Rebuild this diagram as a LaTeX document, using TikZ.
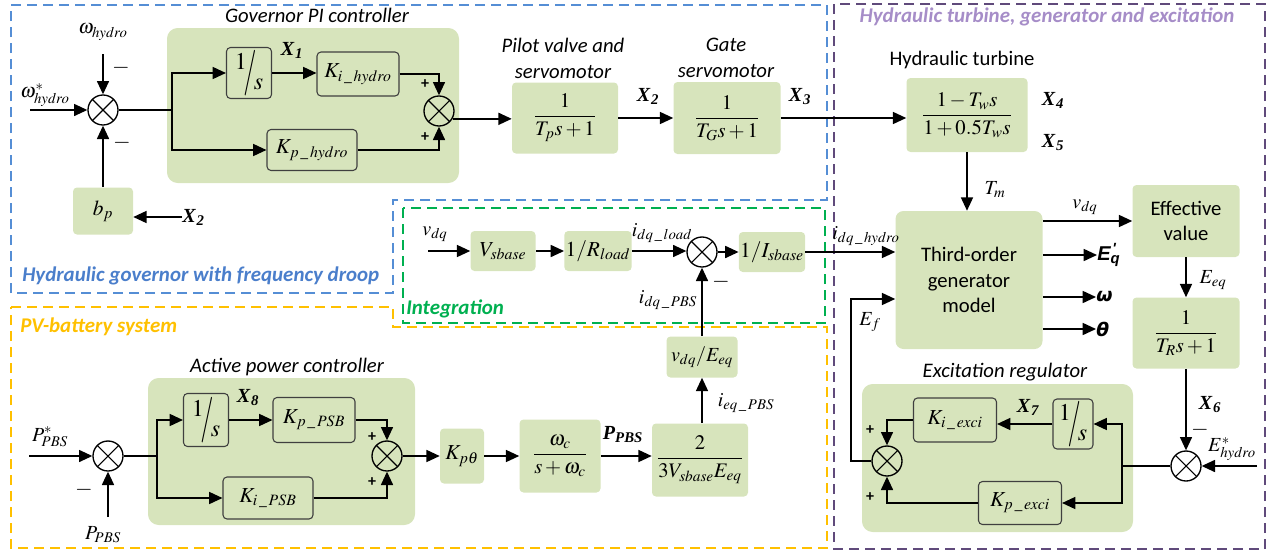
\documentclass[tikz,border=0pt]{standalone}
\usepackage{amsmath}
\usepackage{mathptmx}
\usepackage{graphicx}
\usepackage[no-math]{fontspec}
\setmainfont{Carlito}
\newfontfamily\tms{Liberation Serif}
\newfontfamily\dvs{DejaVu Sans}
\newfontfamily\lsans{Liberation Sans}
\usetikzlibrary{arrows.meta,calc}
\definecolor{gfill}{HTML}{D7E4BC}
\definecolor{bdr}{HTML}{3F3F3F}
\definecolor{bluedash}{HTML}{558ED5}
\definecolor{bluetxt}{HTML}{4A7ECB}
\definecolor{ylw}{HTML}{FFC000}
\definecolor{grn}{HTML}{00B050}
\definecolor{purpdash}{HTML}{604A7B}
\definecolor{purptxt}{HTML}{A68DC8}
\newcommand\ovs{{\raisebox{0.38em}{$1$}\kern-0.14em\raisebox{-0.25em}{\scalebox{1.1}[1.9]{$/$}}\kern-0.12em\raisebox{-0.45em}{$s$}}}
\newcommand\Xl[1]{{\tms\bfseries\itshape X\kern0.05em\textsubscript{#1}}}
\tikzset{
  ln/.style={line width=1.2pt},
  arr/.style={line width=1.2pt,-{Triangle[length=10pt,width=9pt]}},
  sz/.style 2 args={minimum width=#1*0.75pt,minimum height=#2*0.75pt},
  blk/.style={fill=gfill,rounded corners=3pt,inner sep=1pt,align=center},
  bblk/.style={blk,draw=bdr,line width=0.8pt},
  region/.style={fill=gfill,rounded corners=8pt,inner sep=0pt},
  sumj/.style={circle,draw,line width=1pt,minimum size=22.5pt,inner sep=0pt,
    path picture={\draw[line width=0.8pt] (path picture bounding box.south west) -- (path picture bounding box.north east)
      (path picture bounding box.north west) -- (path picture bounding box.south east);}},
  dsh/.style={dash pattern=on 7.5pt off 4.5pt,line width=1.9pt},
  lbl/.style={inner sep=0pt},
  mth/.style={lbl,font=\fontsize{15}{18}\selectfont},
  kf/.style={font=\fontsize{16}{19}\selectfont},
  ff/.style={font=\fontsize{15.5}{18}\selectfont},
  ttl/.style={lbl,align=center,font=\fontsize{15.5}{19.5}\selectfont\itshape},
  rtxt/.style={lbl,font=\fontsize{15.7}{19}\selectfont\bfseries\itshape},
  sgn/.style={lbl,font=\fontsize{17}{19}\selectfont},
  pls/.style={lbl,font=\fontsize{12}{14}\selectfont\bfseries},
  xl/.style={lbl,font=\fontsize{15}{18}\selectfont},
}
\begin{document}
\begin{tikzpicture}[x=0.75pt,y=-0.75pt]
\useasboundingbox (0,0) rectangle (1275,557);
% dashed regions
\draw[dsh,bluedash] (11,5) -- (827,5) -- (827,200) -- (393,200) -- (393,293) -- (11,293) -- cycle;
\draw[dsh,ylw] (11,307) -- (393,307) -- (393,327) -- (827,327) -- (827,548) -- (11,548) -- cycle;
\draw[dsh,grn] (403,208) rectangle (825,323);
\draw[dsh,purpdash] (834,4) rectangle (1265,549);
\node[rtxt,bluetxt,anchor=west] (tgov) at (22,276) {Hydraulic governor with frequency droop};
\node[rtxt,ylw,anchor=west] (tpv) at (20,327) {PV-battery system};
\node[rtxt,grn,anchor=west] (tint) at (406,309) {Integration};
\node[rtxt,purptxt] (ttur) at (1047,17) {Hydraulic turbine, generator and excitation};

% green regions
\node[region,sz={292}{155}] (gpi) at (313,105.5) {};
\node[region,sz={271}{148}] (exr) at (997.5,458) {};
\node[region,sz={267}{147}] (apc) at (281.5,451.5) {};

% ---------- governor ----------
\node[ttl] (tgpi) at (317,15) {Governor PI controller};
\node[sumj] (msum) at (103,110) {};
\coordinate (winp) at (30,110);
\coordinate (wtop) at (103,54);
\node[mth] (lws) at (45,95) {$\omega^{*}_{hydro}$};
\node[mth] (lw) at (103,32) {$\omega_{hydro}$};
\node[sgn] (m1) at (121,68) {$-$};
\node[sgn] (m2) at (122,143) {$-$};
\node[blk,sz={60}{47},kf] (bp) at (103,211) {$b_p$};
\node[xl,anchor=west] (x2b) at (182,217) {\Xl{2}};
\coordinate (gb) at (172,110);
\node[bblk,sz={45}{51},font=\fontsize{18}{20}\selectfont] (int1) at (249,73) {\ovs};
\node[bblk,sz={82}{44},kf] (Ki) at (358,74) {$K_{i\,\_\,hydro}$};
\node[bblk,sz={90}{41},kf] (Kp) at (312,150) {$K_{p\,\_\,hydro}$};
\node[sumj] (gsum) at (439,111) {};
\node[pls] (p1) at (425,84) {+};
\node[pls] (p2) at (425,137) {+};
\node[xl] (x1) at (292,50) {\Xl{1}};
\draw[arr] (winp) -- (msum.west);
\draw[arr] (wtop) -- (msum.north);
\draw[arr] (bp.north) -- (msum.south);
\draw[arr] (x2b.west) -- (x2b.west -| bp.east);
\draw[ln] (msum.east) -- (gb);
\draw[arr] (gb) |- (int1.west);
\draw[arr] (gb) |- (Kp.west);
\draw[arr] (int1.east) -- (int1.east -| Ki.west);
\draw[arr] (Ki.east) -| (gsum.north);
\draw[arr] (Kp.east) -| (gsum.south);

\node[ttl] (tpil) at (563,58) {Pilot valve and\\servomotor};
\node[blk,sz={106}{71},ff] (pilot) at (565,118) {$\dfrac{1}{T_p s+1}$};
\node[ttl] (tgat) at (726,58) {Gate\\servomotor};
\node[blk,sz={107}{72},ff] (gate) at (727,118) {$\dfrac{1}{T_G s+1}$};
\node[xl] (x2) at (648,96) {\Xl{2}};
\node[xl] (x3) at (800,97) {\Xl{3}};
\draw[arr] (gsum.-30) -- (gsum.-30 -| pilot.west);
\draw[arr] (pilot.east) -- (pilot.east -| gate.west);

% ---------- turbine / generator ----------
\node[lbl,font=\fontsize{15.5}{18}\selectfont] (tht) at (962,60) {Hydraulic turbine};
\node[blk,sz={121}{74},ff] (turb) at (967,115) {$\dfrac{1-T_w s}{1+0.5T_w s}$};
\node[xl] (x4) at (1053,100) {\Xl{4}};
\node[xl] (x5) at (1053,143) {\Xl{5}};
\draw[arr] (gate.east) -- (gate.east -| turb.west);
\node[blk,sz={147}{138},rounded corners=6pt,font=\fontsize{15.5}{19}\selectfont] (gen) at (969,280) {Third-order\\generator\\model};
\draw[arr] (turb.south) -- (turb.south |- gen.north);
\node[mth] (lTm) at (995,190) {$T_m$};
\node[blk,sz={107}{72},font=\fontsize{15.5}{18.5}\selectfont] (eff) at (1186,221) {Effective\\value};
\node[mth] (lvdq2) at (1085,207) {$v_{dq}$};
\draw[arr] (gen.east |- eff.west) -- (eff.west);
\node[lbl,anchor=west,font=\fontsize{15}{18}\selectfont] (leq) at (1097,255) {{\lsans\bfseries\itshape E\rlap{\textsuperscript{\kern0.12em\textquotesingle}}\textsubscript{q}}};
\node[lbl,anchor=west,font=\fontsize{14}{18}\selectfont] (lom) at (1096,297) {{\dvs\bfseries\itshape ω}};
\node[lbl,anchor=west,font=\fontsize{14}{18}\selectfont] (lth) at (1096,329) {{\dvs\bfseries\itshape θ}};
\draw[arr] (gen.east |- leq.west) -- (leq.west);
\draw[arr] (gen.east |- lom.west) -- (lom.west);
\draw[arr] (gen.east |- lth.west) -- (lth.west);
\node[blk,sz={107}{71},ff] (TR) at (1186,333) {$\dfrac{1}{T_R s+1}$};
\draw[arr] (eff.south) -- (TR.north);
\node[mth] (lEeq) at (1213,280) {$E_{eq}$};

% ---------- excitation ----------
\node[ttl] (texr) at (1005,372) {Excitation regulator};
\node[sumj] (esum) at (1186,466) {};
\coordinate (estar) at (1257,466);
\node[mth] (lEs) at (1232,449) {$E^{*}_{hydro}$};
\node[xl] (x6) at (1210,405) {\Xl{6}};
\node[sgn] (m3) at (1200,430) {$-$};
\draw[arr] (TR.south) -- (esum.north);
\draw[arr] (estar) -- (esum.east);
\coordinate (eb) at (1122,466);
\node[bblk,sz={40}{50},font=\fontsize{18}{20}\selectfont] (eint) at (1073,424) {\ovs};
\node[bblk,sz={83}{44},kf] (Kie) at (955,420) {$K_{i\,\_\,exci}$};
\node[bblk,sz={83}{43},kf] (Kpe) at (1020,503) {$K_{p\,\_\,exci}$};
\node[sumj] (xsum) at (887,461) {};
\node[xl] (x7) at (1028,407) {\Xl{7}};
\node[pls] (p3) at (870,430) {+};
\node[pls] (p4) at (870,497) {+};
\draw[ln] (esum.west) -- (eb);
\draw[arr] (eb) |- (eint.east);
\draw[arr] (eb) |- (Kpe.east);
\draw[arr] (eint.west) -- (eint.west -| Kie.east);
\draw[arr] (Kie.west) -| (xsum.north);
\draw[arr] (Kpe.west) -| (xsum.south);
\coordinate (efc) at (851,299);
\draw[arr] (xsum.west) -| (efc) -- (efc -| gen.west);
\node[mth] (lEf) at (870,322) {$E_f$};

% ---------- integration ----------
\coordinate (vin) at (428,251);
\node[mth] (lvdq) at (435,234) {$v_{dq}$};
\node[blk,sz={65}{40},kf] (Vs) at (503,251) {$V_{sbase}$};
\node[blk,sz={65}{40},kf] (Rl) at (598,251) {$1/R_{load}$};
\node[sumj] (isum) at (702,252) {};
\node[blk,sz={65}{40},kf] (Is) at (772,252) {$1/I_{sbase}$};
\node[mth] (lidl) at (662,233) {$i_{dq\,\_\,load}$};
\node[mth] (lidp) at (668,300) {$i_{dq\,\_\,PBS}$};
\node[sgn] (m4) at (721,282) {$-$};
\node[mth] (lidh) at (866,236) {$i_{dq\,\_\,hydro}$};
\draw[arr] (vin) -- (Vs.west);
\draw[arr] (Vs.east) -- (Rl.west);
\draw[arr] (Rl.east) -- (Rl.east -| isum.west);
\draw[arr] (isum.east) -- (Is.west);
\draw[arr] (Is.east) -- (Is.east -| gen.west);

% ---------- PV battery ----------
\node[blk,sz={71}{41},font=\fontsize{15}{18}\selectfont] (vE) at (702,357) {$v_{dq}/E_{eq}$};
\node[blk,sz={96}{73},ff] (PE) at (700,460) {$\dfrac{2}{3V_{sbase}E_{eq}}$};
\node[mth] (lieq) at (746,403) {$i_{eq\,\_\,PBS}$};
\draw[arr] (vE.north) -- (isum.south);
\draw[arr] (PE.north -| vE.south) -- (vE.south);
\node[blk,sz={81}{73},ff] (wc) at (560,456) {$\dfrac{\omega_c}{s+\omega_c}$};
\node[blk,sz={44}{55},kf] (Kpt) at (462,456) {$K_{p\theta}$};
\node[lbl,font=\fontsize{15}{18}\selectfont] (lPp) at (623,435) {{\tms\bfseries\itshape P\textsubscript{PBS}}};
\draw[arr] (Kpt.east) -- (wc.west);
\draw[arr] (wc.east) -- (wc.east -| PE.west);

\node[ttl] (tapc) at (287,367) {Active power controller};
\node[sumj] (psum) at (108,456) {};
\coordinate (pin) at (29,456);
\coordinate (pbot) at (108,517);
\node[mth] (lPs) at (50,437) {$P^{*}_{PBS}$};
\node[mth] (lPb) at (103,535) {$P_{PBS}$};
\node[sgn] (m5) at (84,490) {$-$};
\coordinate (pb) at (157,456);
\node[bblk,sz={45}{53},font=\fontsize{18}{20}\selectfont] (pint) at (206,420) {\ovs};
\node[bblk,sz={82}{45},kf] (Kpp) at (314,420) {$K_{p\,\_\,PSB}$};
\node[bblk,sz={90}{42},kf] (Kip) at (268,498) {$K_{i\,\_\,PSB}$};
\node[sumj] (asum) at (387,456) {};
\node[xl] (x8) at (248,398) {\Xl{8}};
\node[pls] (p5) at (372,437) {+};
\node[pls] (p6) at (372,482) {+};
\draw[arr] (pin) -- (psum.west);
\draw[arr] (pbot) -- (psum.south);
\draw[ln] (psum.east) -- (pb);
\draw[arr] (pb) |- (pint.west);
\draw[arr] (pb) |- (Kip.west);
\draw[arr] (pint.east) -- (pint.east -| Kpp.west);
\draw[arr] (Kpp.east) -| (asum.north);
\draw[arr] (Kip.east) -| (asum.south);
\draw[arr] (asum.east) -- (Kpt.west);
\end{tikzpicture}
\end{document}
